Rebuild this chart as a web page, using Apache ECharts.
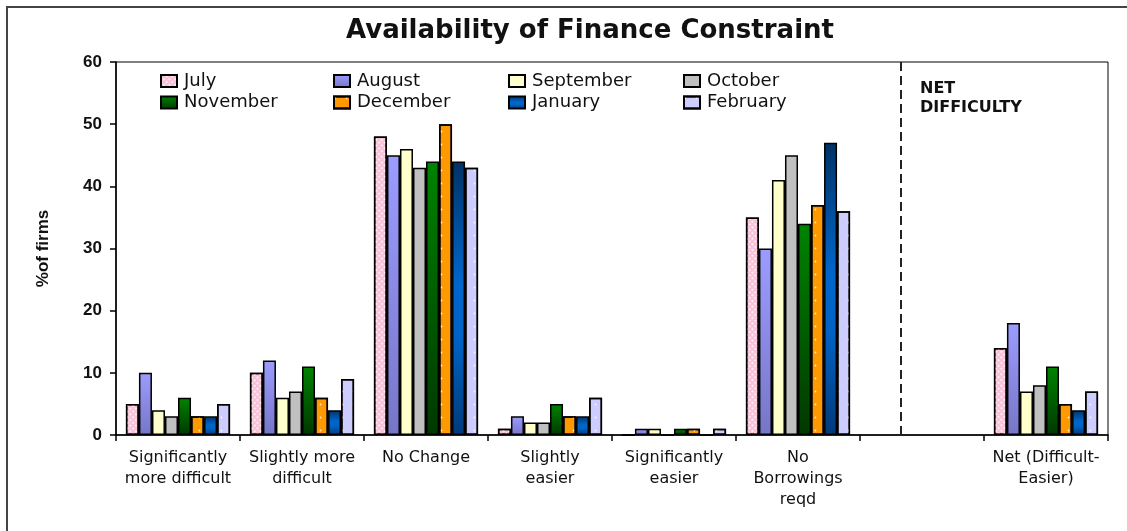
<!DOCTYPE html>
<html>
<head>
<meta charset="utf-8">
<script src="https://cdn.jsdelivr.net/npm/echarts@6/dist/echarts.min.js"></script>
<style>
html,body{margin:0;padding:0;background:#fff;}
#chart{width:1127px;height:531px;}
</style>
</head>
<body>
<div id="chart"></div>
<script>
// ---- data ----
const chartTitle = 'Availability of Finance Constraint';
const yAxisName = '%of firms';
const netNote = 'NET\nDIFFICULTY';
const categories = [
  'Significantly\nmore difficult',
  'Slightly more\ndifficult',
  'No Change',
  'Slightly\neasier',
  'Significantly\neasier',
  'No\nBorrowings\nreqd',
  '',
  'Net (Difficult-\nEasier)'
];
const months = ['July','August','September','October','November','December','January','February'];
const july      = [5, 10, 48, 1, 0, 35, null, 14];
const august    = [10, 12, 45, 3, 1, 30, null, 18];
const september = [4, 6, 46, 2, 1, 41, null, 7];
const october   = [3, 7, 43, 2, 0, 45, null, 8];
const november  = [6, 11, 44, 5, 1, 34, null, 11];
const december  = [3, 6, 50, 3, 1, 37, null, 5];
const january   = [3, 4, 44, 3, 0, 47, null, 4];
const february  = [5, 9, 43, 6, 1, 36, null, 7];
const yMin = 0, yMax = 60, yStep = 10;
const netDividerPos = 6.33; // position on category scale (0..8)

// ---- styles ----
const grad = (stops) => new echarts.graphic.LinearGradient(0, 0, 0, 1, stops.map((c) => ({offset: c[0], color: c[1]})));
const styles = {
  July: {color: '#f8c2d8', decal: {symbol: 'rect', symbolSize: 1, color: 'rgba(255,255,255,0.65)', dashArrayX: [2, 2], dashArrayY: [2, 2], rotation: 0.785}},
  August: {color: grad([[0, '#9c9cff'], [1, '#7676c8']])},
  September: {color: '#ffffcc'},
  October: {color: '#c0c0c0'},
  November: {color: grad([[0, '#008400'], [1, '#003800']])},
  December: {color: '#ff9900', decal: {symbol: 'circle', symbolSize: 0.6, color: 'rgba(255,255,255,0.85)', dashArrayX: [[3, 8]], dashArrayY: [3, 10], rotation: 0}},
  January: {color: grad([[0, '#003366'], [0.45, '#0066cc'], [0.65, '#0062c4'], [1, '#003a7a']])},
  February: {color: '#ccccff', decal: {symbol: 'circle', symbolSize: 0.6, color: 'rgba(255,255,255,0.85)', dashArrayX: [[3, 8]], dashArrayY: [3, 10], rotation: 0}}
};
const values = [july, august, september, october, november, december, january, february];

const chart = echarts.init(document.getElementById('chart'), null, {renderer: 'canvas'});

const barSeries = months.map((m, i) => ({
  name: m,
  type: 'bar',
  data: values[i],
  barGap: '0%',
  barCategoryGap: '16%',
  itemStyle: Object.assign({borderColor: '#000', borderWidth: 1.5}, styles[m]),
  emphasis: {disabled: true}
}));

const legendCols = [[months[0], months[4]], [months[1], months[5]], [months[2], months[6]], [months[3], months[7]]];
const legendLefts = [160, 333, 508, 683];
const legends = legendCols.map((d, i) => ({
  data: d,
  orient: 'vertical',
  left: legendLefts[i],
  top: 72,
  padding: 0,
  icon: 'rect',
  itemWidth: 16,
  itemHeight: 12,
  itemGap: 3.5,
  selectedMode: false,
  textStyle: {fontFamily: 'DejaVu Sans', fontSize: 18, color: '#111', padding: [0, 0, 0, 2]}
}));

chart.setOption({
  animation: false,
  backgroundColor: '#fff',
  title: [
    {text: chartTitle, left: 590, textAlign: 'center', top: 18, padding: 0,
     textStyle: {fontFamily: 'DejaVu Sans', fontWeight: 'bold', fontSize: 26, color: '#111'}},
    {text: netNote, left: 920, top: 79, padding: 0,
     textStyle: {fontFamily: 'DejaVu Sans', fontWeight: 'bold', fontSize: 16, lineHeight: 19, color: '#111'}}
  ],
  legend: legends,
  grid: {left: 116, right: 19, top: 62, bottom: 96, show: true, borderColor: '#000', borderWidth: 1, backgroundColor: '#fff'},
  xAxis: [
    {
      type: 'category',
      data: categories,
      boundaryGap: true,
      axisLine: {lineStyle: {color: '#000', width: 1.5}},
      axisTick: {show: true, length: 6, alignWithLabel: false, lineStyle: {color: '#000', width: 1.5}},
      axisLabel: {interval: 0, margin: 12, fontFamily: 'DejaVu Sans', fontSize: 16, lineHeight: 21, color: '#111'}
    },
    {type: 'value', min: 0, max: categories.length, show: false}
  ],
  yAxis: {
    type: 'value',
    min: yMin, max: yMax, interval: yStep,
    name: yAxisName,
    nameLocation: 'middle',
    nameGap: 64,
    nameTextStyle: {fontFamily: 'Liberation Sans', fontWeight: 'bold', fontSize: 17, color: '#111'},
    axisLine: {show: true, lineStyle: {color: '#000', width: 1.5}},
    axisTick: {show: true, length: 6, lineStyle: {color: '#000', width: 1.5}},
    axisLabel: {margin: 14, fontFamily: 'Liberation Sans', fontWeight: 'bold', fontSize: 17, color: '#111'},
    splitLine: {show: false}
  },
  series: barSeries.concat([{
    name: 'divider',
    type: 'line',
    xAxisIndex: 1,
    data: [],
    silent: true,
    markLine: {
      silent: true,
      symbol: 'none',
      label: {show: false},
      lineStyle: {type: [9, 5], color: '#222', width: 2},
      data: [{xAxis: netDividerPos}]
    }
  }]),
  graphic: [{
    type: 'rect',
    shape: {x: 7, y: 7, width: 1200, height: 600},
    style: {fill: 'none', stroke: '#444', lineWidth: 2},
    silent: true,
    z: 100
  }]
});
</script>
</body>
</html>
